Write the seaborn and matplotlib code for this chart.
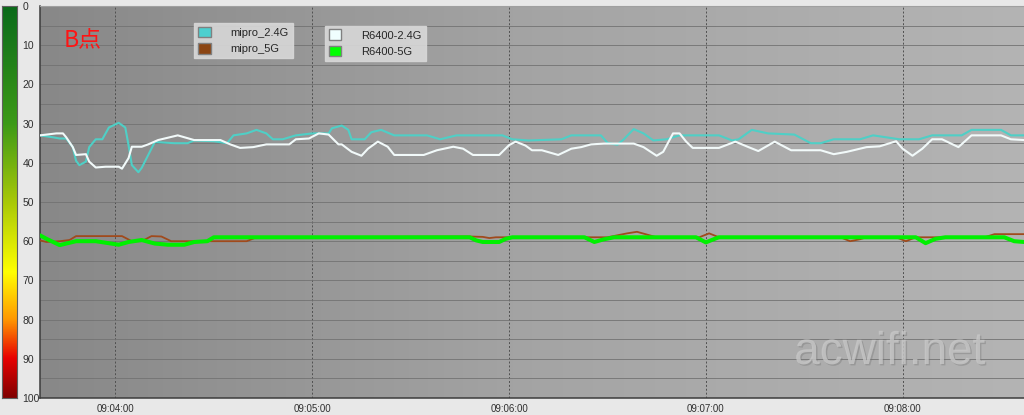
import numpy as np
import pandas as pd
import matplotlib
matplotlib.use('Agg')
import matplotlib.pyplot as plt
import matplotlib.dates as mdates
from matplotlib.colors import LinearSegmentedColormap
from matplotlib.patches import Patch
import matplotlib.patheffects as pe
import seaborn as sns

# seconds after 09:03:37 and signal values (0 = best, 100 = worst)
t_mipro24 = [0, 4, 6, 8, 10, 11, 12, 14, 15, 17, 19, 21, 24, 26, 27, 28, 30, 31, 33, 35,
             41, 45, 47, 53, 57, 59, 63, 66, 69, 71, 74, 78, 83, 88, 89, 92, 94, 95, 99,
             101, 104, 108, 118, 122, 127, 141, 144, 149, 159, 162, 171, 173, 176, 178,
             181, 184, 187, 191, 195, 207, 211, 213, 217, 222, 230, 235, 238, 242, 250,
             254, 258, 262, 268, 272, 281, 284, 293, 296, 300]
v_mipro24 = [33, 33.5, 33.8, 33.8, 36, 39.5, 40.6, 39.7, 36, 34, 34, 31, 29.8, 31, 35.5,
             40.6, 42.4, 41.3, 38, 34.7, 35, 35, 34.3, 34.5, 35, 33, 32.5, 31.6, 32.5, 34,
             34, 33, 32.5, 32.5, 31.2, 30.5, 31.6, 34, 34, 32.2, 31.6, 33, 33, 34, 33, 33,
             34, 34.3, 34, 33, 33, 34.9, 35.4, 34, 31.4, 32.5, 34.3, 34, 33, 33, 34.3, 34,
             31.6, 32.5, 32.8, 35, 35, 34, 34, 33, 33.5, 34, 34, 33, 33, 31.6, 31.6, 33, 33]

t_r6400_24 = [0, 5, 7, 8, 10, 11, 14, 15, 17, 20, 24, 25, 27, 28, 31, 33, 36, 42, 47, 55,
              58, 61, 65, 69, 76, 78, 82, 85, 88, 91, 92, 95, 98, 100, 103, 106, 108, 117,
              121, 126, 129, 132, 140, 143, 145, 148, 150, 153, 158, 162, 165, 168, 172,
              181, 184, 188, 190, 193, 195, 197, 199, 207, 212, 216, 219, 224, 229, 238,
              242, 246, 252, 256, 261, 263, 266, 269, 272, 275, 280, 284, 293, 296, 300]
v_r6400_24 = [33, 32.5, 32.5, 33.5, 36, 38, 37.8, 39.7, 41.2, 41, 41, 41.5, 38.8, 35.9,
              35.9, 35.3, 34.2, 33, 34.2, 34.2, 35.3, 36.2, 36, 35.3, 35.3, 34, 33.8, 32.5,
              32.8, 35.3, 35.3, 37.2, 38.2, 36.4, 34.6, 35.9, 38, 38, 36.8, 35.9, 36.4, 38,
              38, 35.5, 34.6, 35.6, 36.8, 36.8, 38, 36.4, 36, 35.3, 35.1, 35.1, 36, 38.2,
              37.2, 32.5, 32.5, 34.6, 36.2, 36.2, 34.6, 36, 37, 34.6, 36.8, 36.8, 37.8,
              37.2, 36, 35.8, 34.5, 36.4, 38.2, 36.4, 34, 34, 36, 33, 33, 34, 34.2]

t_mipro5 = [0, 2, 6, 9, 11, 25, 28, 31, 34, 37, 40, 63, 66, 131, 135, 137, 139, 167, 173,
            179, 182, 185, 188, 201, 204, 207, 244, 247, 250, 252, 261, 264, 267, 288, 291,
            300]
v_mipro5 = [59.8, 60.2, 60, 59.7, 58.7, 58.7, 60, 60, 58.7, 58.8, 60, 60, 59, 58.8, 58.9,
            59.2, 59, 59, 59, 58, 57.6, 58.3, 59, 59, 58, 59, 59, 60, 59.5, 59, 59, 60, 59,
            59, 58.2, 58.2]

t_r6400_5 = [0, 2, 6, 8, 11, 17, 24, 27, 31, 35, 39, 44, 47, 51, 53, 131, 133, 135, 140,
             142, 144, 166, 169, 172, 175, 200, 203, 206, 207, 267, 270, 273, 276, 294,
             297, 300]
v_r6400_5 = [58.5, 59.4, 61, 60.6, 60, 60, 60.9, 60.2, 59.7, 60.6, 60.9, 60.9, 60.2, 60,
             59, 59, 59.8, 60.2, 60.2, 59.4, 59, 59, 60.2, 59.5, 59, 59, 60.3, 59.3, 59, 59,
             60.5, 59.4, 59, 59, 60, 60.2]

series_names = ['mipro_2.4G', 'R6400-2.4G', 'mipro_5G', 'R6400-5G']
series_t = [t_mipro24, t_r6400_24, t_mipro5, t_r6400_5]
series_v = [v_mipro24, v_r6400_24, v_mipro5, v_r6400_5]
line_colors = {'mipro_2.4G': '#4fcfc6', 'R6400-2.4G': '#f2fafa',
               'mipro_5G': '#a04a1c', 'R6400-5G': '#00f000'}
swatch_colors = {'mipro_2.4G': '#4ccfcf', 'mipro_5G': '#8b4513',
                 'R6400-2.4G': '#f0ffff', 'R6400-5G': '#00ff00'}
line_widths = {'mipro_2.4G': 1.5, 'R6400-2.4G': 1.5, 'mipro_5G': 1.3, 'R6400-5G': 2.9}

start = pd.Timestamp('2019-01-01 09:03:37')
frames = []
for name, t, v in zip(series_names, series_t, series_v):
    frames.append(pd.DataFrame({'time': start + pd.to_timedelta(t, unit='s'),
                                'value': v, 'series': name}))
data = pd.concat(frames, ignore_index=True)

sns.set_style('white')
plt.rcParams['font.family'] = ['Liberation Sans', 'DejaVu Sans']

fig = plt.figure(figsize=(10.24, 4.15), dpi=100, facecolor='#e8e8e8')
ax = fig.add_axes([40 / 1024, 17 / 415, 984 / 1024, 392 / 415])

# gray gradient background
bg = LinearSegmentedColormap.from_list('bg', ['#888888', '#a4a4a4', '#b4b4b4'])
ax.imshow(np.linspace(0, 1, 256).reshape(1, -1), cmap=bg, extent=[0, 1, 0, 1],
          transform=ax.transAxes, aspect='auto', zorder=0)

for name in series_names:
    sns.lineplot(data=data[data['series'] == name], x='time', y='value', ax=ax,
                 color=line_colors[name], linewidth=line_widths[name], zorder=3,
                 legend=False, solid_joinstyle='round', solid_capstyle='round')

ax.set_xlim(start, start + pd.Timedelta(seconds=300))
ax.set_ylim(100, 0)
ax.set_yticks(range(0, 101, 5))
ax.xaxis.set_major_locator(mdates.MinuteLocator())
ax.xaxis.set_major_formatter(mdates.DateFormatter('%H:%M:%S'))
ax.set_axisbelow(True)
ax.yaxis.grid(True, color='#727272', linewidth=0.6)
ax.xaxis.grid(True, color='#505050', linewidth=0.7, linestyle=(0, (2, 2)))
ax.tick_params(axis='y', length=0, labelleft=False)
ax.tick_params(axis='x', length=0, labelsize=7, labelcolor='#303030', pad=4)
ax.set_xlabel('')
ax.set_ylabel('')
for side in ['left', 'bottom']:
    ax.spines[side].set_color('#3c3c3c')
    ax.spines[side].set_linewidth(1.1)
ax.spines['top'].set_color('#a0a0a0')
ax.spines['right'].set_visible(False)

# signal colour scale on the left
cax = fig.add_axes([2 / 1024, 17 / 415, 15 / 1024, 392 / 415])
sig = LinearSegmentedColormap.from_list(
    'sig', [(0, '#0a6a1a'), (0.3, '#3c9a18'), (0.5, '#a8c808'), (0.68, '#ffff00'),
            (0.8, '#ff9900'), (0.9, '#e80000'), (1.0, '#800000')])
cax.imshow(np.linspace(0, 100, 256).reshape(-1, 1), cmap=sig, aspect='auto',
           extent=[0, 1, 100, 0])
cax.set_ylim(100, 0)
cax.set_xticks([])
cax.set_yticks(range(0, 101, 10))
cax.yaxis.tick_right()
cax.tick_params(axis='y', length=0, labelsize=7.5, labelcolor='#303030', pad=4)
for s in cax.spines.values():
    s.set_color('#606060')
    s.set_linewidth(0.8)

# legends
leg_kw = dict(loc='upper left', fontsize=8, frameon=True, facecolor='#d8d8d8',
              edgecolor='#d8d8d8', framealpha=0.9, fancybox=False, handlelength=1.1,
              handleheight=1.1, handletextpad=1.8, labelspacing=0.45, borderpad=0.35,
              borderaxespad=0)
h1 = [Patch(facecolor=swatch_colors[n], edgecolor='#808080', linewidth=1)
      for n in ['mipro_2.4G', 'mipro_5G']]
leg1 = ax.legend(h1, ['mipro_2.4G', 'mipro_5G'], bbox_to_anchor=(0.157, 0.957), **leg_kw)
ax.add_artist(leg1)
h2 = [Patch(facecolor=swatch_colors[n], edgecolor='#808080', linewidth=1)
      for n in ['R6400-2.4G', 'R6400-5G']]
ax.legend(h2, ['R6400-2.4G', 'R6400-5G'], bbox_to_anchor=(0.29, 0.95), **leg_kw)

fig.text(64 / 1024, 1 - 41 / 415, 'B点', color='#ff1414', fontsize=16.5,
         family=['Noto Sans CJK SC', 'DejaVu Sans'], ha='left', va='center')

fig.text(890 / 1024, 1 - 352 / 415, 'acwifi.net', color='#c8c8c8', fontsize=33,
         ha='center', va='center', alpha=0.8,
         path_effects=[pe.withSimplePatchShadow(offset=(1, -1), shadow_rgbFace='#707070',
                                                alpha=0.35)])

plt.savefig('out.png', dpi=100, facecolor=fig.get_facecolor())
